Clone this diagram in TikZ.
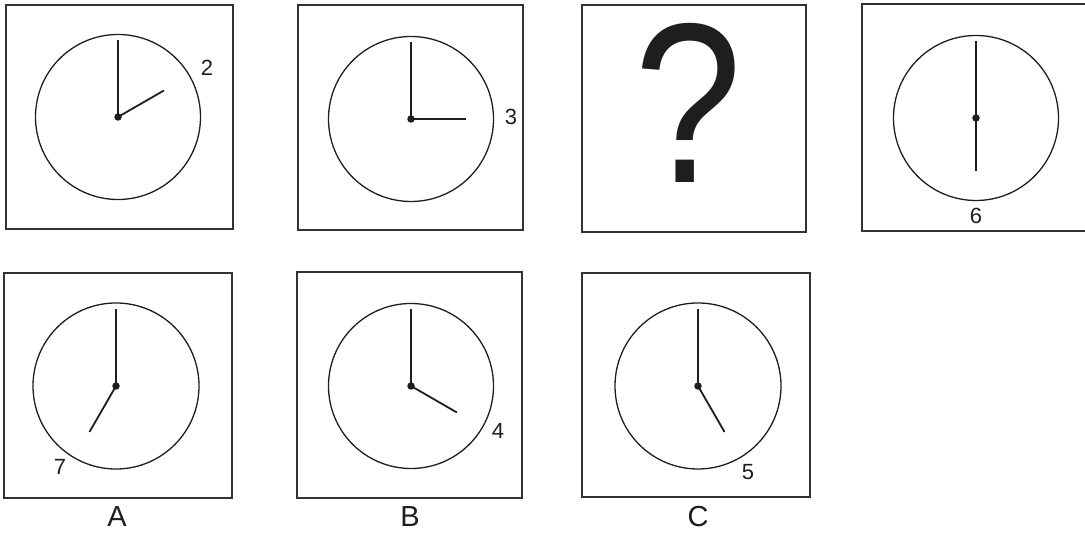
\documentclass[tikz,border=0pt]{standalone}
\usepackage{fontspec}
\setmainfont{Liberation Sans}
\usepackage{tikz}
\usetikzlibrary{calc}
\usepackage{xcolor}
\definecolor{inkgray}{RGB}{30,30,30}
\definecolor{framegray}{RGB}{50,50,50}
\tikzset{
  panel/.style={draw=framegray, line width=1.5pt},
  face/.style={draw=inkgray, line width=1.3pt},
  hand/.style={draw=inkgray, line width=1.8pt},
  hub/.style={circle, fill=inkgray, inner sep=0pt, minimum size=7.5pt},
  num/.style={font=\fontsize{22}{24}\selectfont, text=inkgray, inner sep=0pt},
  tag/.style={font=\fontsize{29}{30}\selectfont, text=inkgray, inner sep=0pt},
}

\begin{document}
\begin{tikzpicture}[x=1pt, y=1pt]
\useasboundingbox (0,0) rectangle (1085,535);

% top row
\draw[panel] (6,306) rectangle (233,530);
\coordinate (c1) at (118,418);
\draw[face] (c1) circle (82.5);
\draw[hand] (c1) -- ++(90:77);
\draw[hand] (c1) -- ++(30:53);
\node[hub] (h1) at (c1) {};
\node[num] (n1) at (207,467) {2};

\draw[panel] (298,305) rectangle (523,530);
\coordinate (c2) at (411,416);
\draw[face] (c2) circle (82.5);
\draw[hand] (c2) -- ++(90:77);
\draw[hand] (c2) -- ++(0:55);
\node[hub] (h2) at (c2) {};
\node[num] (n2) at (511,418) {3};

\draw[panel] (582,303) rectangle (806,530);
\node[inner sep=0pt, text=inkgray, xscale=0.85, font=\fontsize{228}{228}\selectfont] (ask) at (688,432) {?};

\draw[panel] (1090,531) -- (862,531) -- (862,304) -- (1090,304);
\coordinate (c4) at (976,417);
\draw[face] (c4) circle (82.5);
\draw[hand] (c4) -- ++(90:77);
\draw[hand] (c4) -- ++(-90:53);
\node[hub] (h4) at (c4) {};
\node[num] (n4) at (976,319) {6};

% bottom row: answers
\draw[panel] (4,37) rectangle (232,262);
\coordinate (ca) at (116,149);
\draw[face] (ca) circle (83);
\draw[hand] (ca) -- ++(90:77);
\draw[hand] (ca) -- ++(240:53);
\node[hub] (ha) at (ca) {};
\node[num] (na) at (60,68) {7};
\node[tag] (ta) at (117,18) {A};

\draw[panel] (297,37) rectangle (522,263);
\coordinate (cb) at (411,149);
\draw[face] (cb) circle (82.5);
\draw[hand] (cb) -- ++(90:77);
\draw[hand] (cb) -- ++(-30:53);
\node[hub] (hb) at (cb) {};
\node[num] (nb) at (498,104) {4};
\node[tag] (tb) at (410,18) {B};

\draw[panel] (582,38) rectangle (810,262);
\coordinate (cc) at (698,149);
\draw[face] (cc) circle (83);
\draw[hand] (cc) -- ++(90:77);
\draw[hand] (cc) -- ++(-60:53);
\node[hub] (hc) at (cc) {};
\node[num] (nc) at (748,63) {5};
\node[tag] (tc) at (698,18) {C};
\end{tikzpicture}
\end{document}
